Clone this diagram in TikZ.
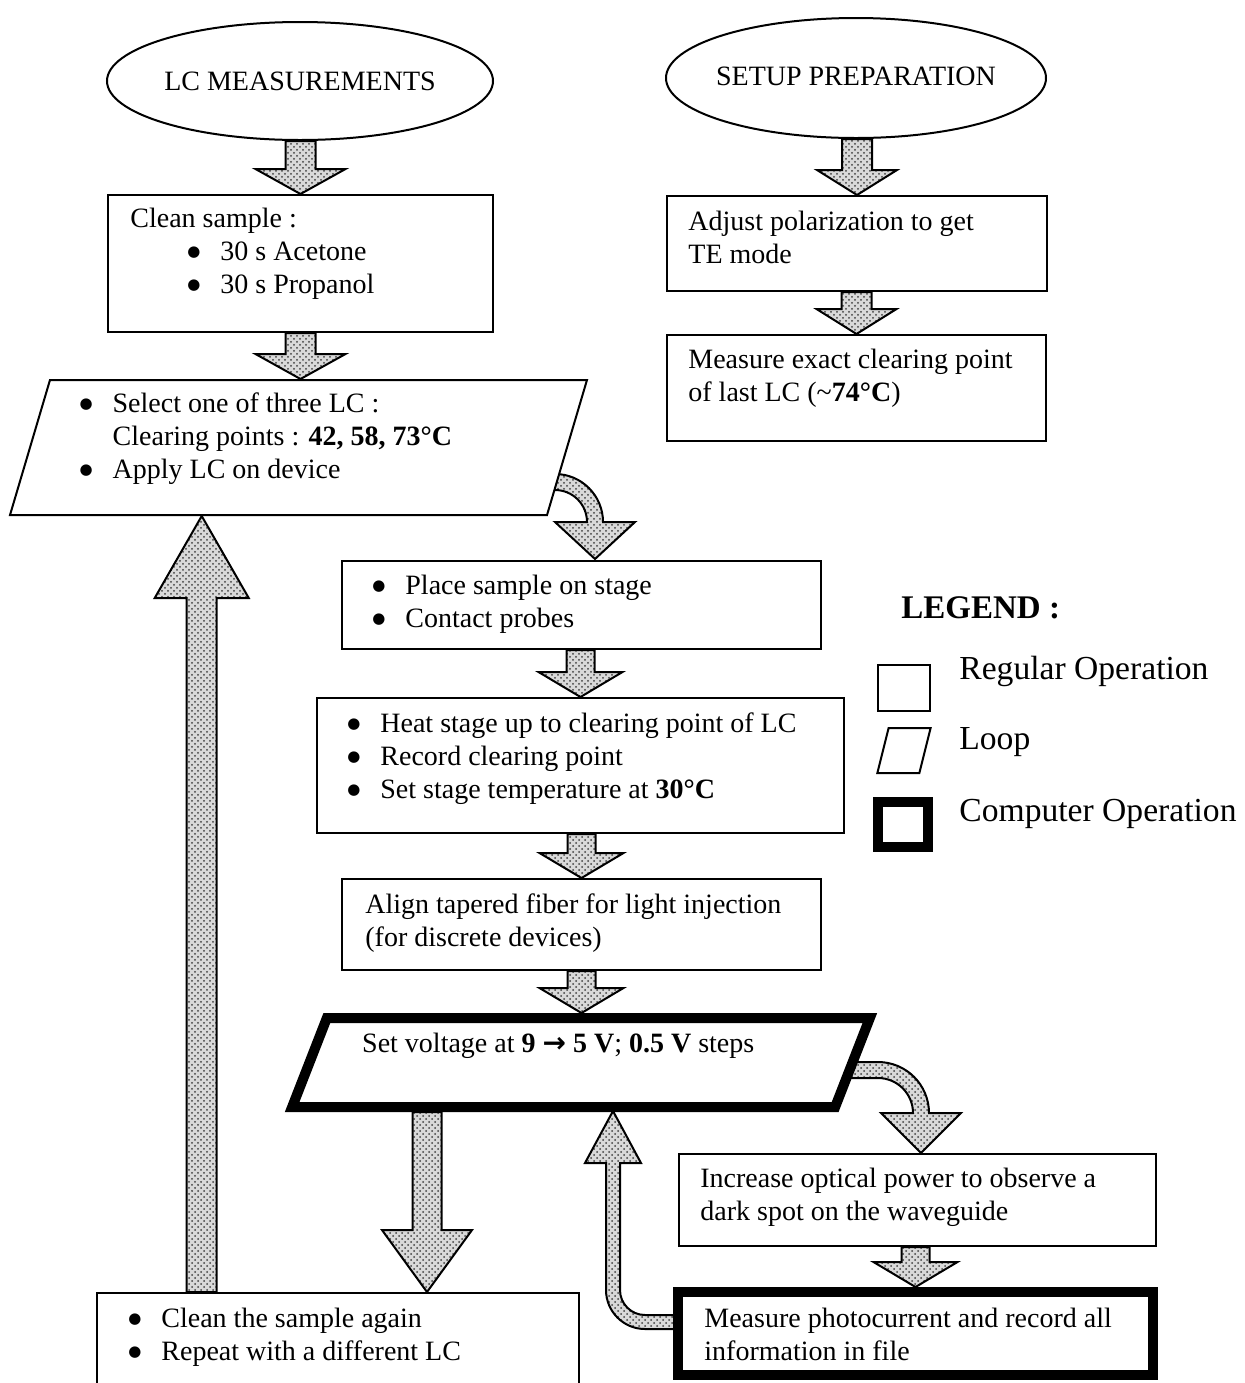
\documentclass[tikz,border=0pt]{standalone}
\usepackage{fontspec}
\setmainfont{Liberation Serif}
\newfontfamily\symfont{DejaVu Sans}
\usetikzlibrary{shapes.geometric,positioning,calc,backgrounds,patterns}

\tikzset{
  opbox/.style={draw, line width=1pt, fill=white, anchor=north west, inner sep=0pt},
  compbox/.style={opbox, line width=5pt},
  loopbox/.style={draw, line width=1pt, fill=white, inner sep=0pt, transform shape},
  oval/.style={ellipse, draw, line width=1pt, fill=white, inner sep=0pt},
  txt/.style={anchor=north west, inner sep=0pt, align=left, font=\fontsize{14}{16.5}\selectfont},
  legtxt/.style={anchor=base west, inner sep=0pt, font=\fontsize{16.8}{19}\selectfont},
  arrowfill/.style={fill=gray!30, postaction={pattern=crosshatch dots, pattern color=black!75}, postaction={draw, line width=1pt}},
}

\newcommand{\bul}{\makebox[16.5pt][l]{\raisebox{2pt}{\symfont\fontsize{7.5}{7.5}\selectfont ●}}}
\newcommand{\rarr}{{\symfont\bfseries →}}
% straight block arrow: start, tip, shaft half width, head half width, head length
\newcommand{\blockarrow}[5]{%
  \path[arrowfill] let \p1=(#1), \p2=(#2), \n1={sign(\y1-\y2)} in
    (\x2-#3,\y1) -- (\x2-#3,\y2+\n1*#5) -- (\x2-#4,\y2+\n1*#5) -- (\x2,\y2)
    -- (\x2+#4,\y2+\n1*#5) -- (\x2+#3,\y2+\n1*#5) -- (\x2+#3,\y1) -- cycle;}

\begin{document}
\begin{tikzpicture}[x=0.5pt, y=-0.5pt]
\useasboundingbox (0,0) rectangle (1245,1383);

% left column
\node[oval, minimum width=193pt, minimum height=59pt] (lcmeas) at (300,81) {};
\node[txt, anchor=center] (lcmeast) at (lcmeas) {LC MEASUREMENTS};
\node[opbox, minimum width=192.5pt, minimum height=68.5pt] (clean) at (107,194) {};
\node[txt, below right=7pt and 11.5pt of clean.north west] (cleant) {Clean sample :\\ \hspace*{28.5pt}\bul 30 s Acetone\\ \hspace*{28.5pt}\bul 30 s Propanol};

\begin{scope}[shift={(298.5,447.5)}, xslant=0.296]
\node[loopbox, minimum width=268.5pt, minimum height=67.5pt] (sel) at (0,0) {};
\end{scope}
\node[txt, below right=6.5pt and 15pt of sel.north west] (selt) {\bul Select one of three LC :\\ \hspace*{16.5pt}Clearing points : \textbf{42, 58, 73°C}\\ \bul Apply LC on device};

% right column
\node[oval, minimum width=190pt, minimum height=60pt] (setup) at (856,78) {};
\node[txt, anchor=center] (setupt) at ($(setup)+(0,-2)$) {SETUP PREPARATION};
\node[opbox, minimum width=190pt, minimum height=47.5pt] (polar) at (666,195) {};
\node[txt, below right=8pt and 11pt of polar.north west] (polart) {Adjust polarization to get\\TE mode};
\node[opbox, minimum width=189.5pt, minimum height=53pt] (clearpt) at (666,334) {};
\node[txt, below right=7.5pt and 11pt of clearpt.north west] (clearptt) {Measure exact clearing point\\of last LC (\textasciitilde\textbf{74°C})};

% middle column
\node[opbox, minimum width=239.5pt, minimum height=44pt] (place) at (341,560) {};
\node[txt, below right=7.5pt and 15.5pt of place.north west] (placet) {\bul Place sample on stage\\ \bul Contact probes};
\node[opbox, minimum width=263.5pt, minimum height=67.5pt] (heat) at (316,697) {};
\node[txt, below right=7.5pt and 15.5pt of heat.north west] (heatt) {\bul Heat stage up to clearing point of LC\\ \bul Record clearing point\\ \bul Set stage temperature at \textbf{30°C}};
\node[opbox, minimum width=239.5pt, minimum height=45.5pt] (align) at (341,878) {};
\node[txt, below right=7.5pt and 12pt of align.north west] (alignt) {Align tapered fiber for light injection\\(for discrete devices)};

\begin{scope}[shift={(581,1062.5)}, xslant=0.39]
\node[loopbox, line width=5pt, minimum width=271.5pt, minimum height=44.5pt] (volt) at (0,0) {};
\end{scope}
\node[txt, below right=10pt and 19pt of volt.north west] (voltt) {Set voltage at \textbf{9 \rarr{} 5 V}; \textbf{0.5 V} steps};

\node[opbox, minimum width=238.5pt, minimum height=46pt] (optpow) at (678,1153) {};
\node[txt, below right=7.5pt and 11pt of optpow.north west] (optpowt) {Increase optical power to observe a\\dark spot on the waveguide};
\node[compbox, minimum width=237.5pt, minimum height=41.5pt] (photo) at (673,1287) {};
\node[txt, below right=10.5pt and 15.5pt of photo.north west] (photot) {Measure photocurrent and record all\\information in file};

\node[opbox, minimum width=241pt, minimum height=45.5pt] (again) at (96,1292) {};
\node[txt, below right=8pt and 16pt of again.north west] (againt) {\bul Clean the sample again\\ \bul Repeat with a different LC};

% legend
\node[legtxt, font=\fontsize{16.5}{19}\selectfont\bfseries] (legend) at (901,618) {LEGEND :};
\node[opbox, anchor=center, minimum width=26pt, minimum height=23pt] (legreg) at (904,688) {};
\begin{scope}[shift={(904,750.5)}, xslant=0.25]
\node[loopbox, minimum width=21pt, minimum height=22.5pt] (legloop) at (0,0) {};
\end{scope}
\node[compbox, anchor=center, minimum width=25pt, minimum height=22.5pt] (legcomp) at (903,824.5) {};
\node[legtxt] (legregt) at (959,679) {Regular Operation};
\node[legtxt] (legloopt) at (959,749) {Loop};
\node[legtxt] (legcompt) at (959,821) {Computer Operation};

% arrows
\begin{scope}[on background layer]
\blockarrow{lcmeas.south}{clean.north}{7.5pt}{22.5pt}{12.5pt}
\blockarrow{clean.south}{clean.south |- sel.north}{7.5pt}{22.5pt}{12.5pt}
\blockarrow{setup.south}{polar.north}{7.5pt}{20pt}{12.5pt}
\blockarrow{polar.south}{clearpt.north}{7.5pt}{20pt}{12.5pt}
\blockarrow{place.south}{heat.north}{7pt}{21pt}{12.5pt}
\blockarrow{heat.south}{align.north}{7pt}{21pt}{12.5pt}
\blockarrow{align.south}{align.south |- volt.north}{7pt}{21pt}{12.5pt}
\blockarrow{optpow.south}{photo.north}{7pt}{21pt}{12.5pt}
\blockarrow{volt.south}{$(again.north west)+(331,0)$}{7.25pt}{22.5pt}{31pt}
\blockarrow{again.north}{$(sel.south west)+(193,0)$}{7.5pt}{23.5pt}{41pt}

\path[arrowfill] (545,474) -- (555,474) .. controls (581.5,474) and (603,495.5) .. (603,522)
  -- (635,522) -- (595,559) -- (555,522) -- (587,522)
  .. controls (587,504.3) and (572.7,490) .. (555,490) -- (545,490) -- cycle;
\path[arrowfill] (840,1062) -- (878,1062) .. controls (906.2,1062) and (929,1084.8) .. (929,1113)
  -- (961,1113) -- (921,1153) -- (881,1113) -- (913,1113)
  .. controls (913,1093.7) and (897.3,1078) .. (878,1078) -- (840,1078) -- cycle;
\path[arrowfill] (690,1329) -- (645,1329) .. controls (623.5,1329) and (606,1311.5) .. (606,1290)
  -- (606,1163) -- (585,1163) -- (613,1111) -- (641,1163) -- (620,1163) -- (620,1290)
  .. controls (620,1303.8) and (631.2,1315) .. (645,1315) -- (690,1315) -- cycle;
\end{scope}

\end{tikzpicture}
\end{document}
